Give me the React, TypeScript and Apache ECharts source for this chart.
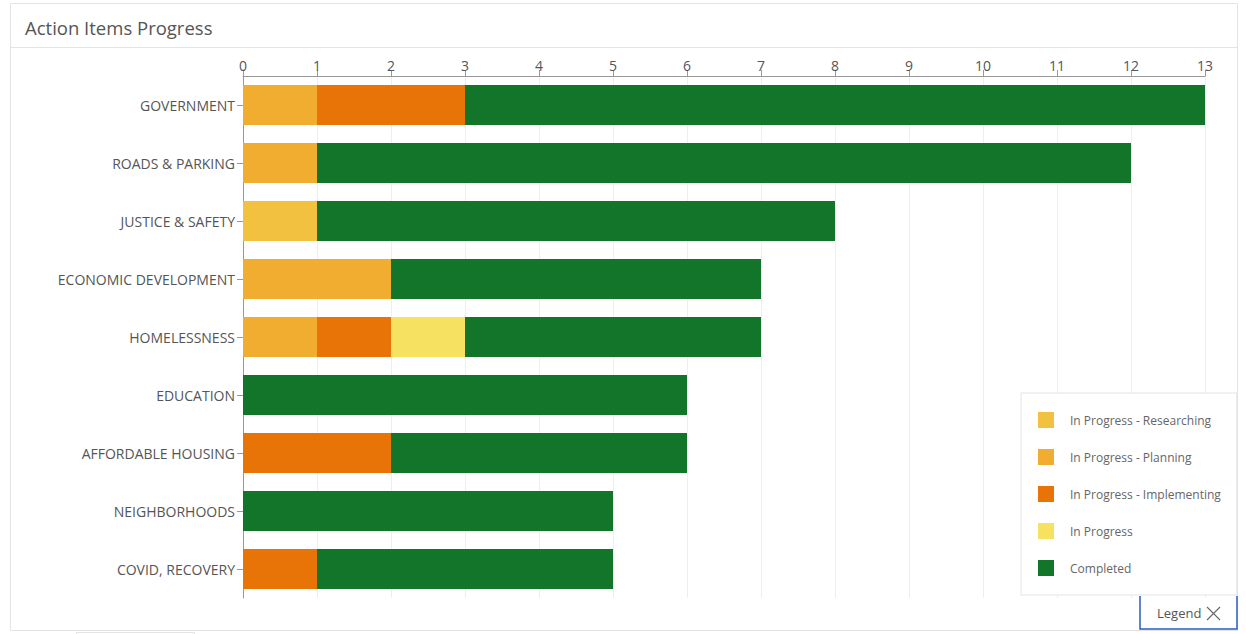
import React, { useEffect, useRef } from "react";
import * as echarts from "echarts";

const categories = [
  "GOVERNMENT",
  "ROADS & PARKING",
  "JUSTICE & SAFETY",
  "ECONOMIC DEVELOPMENT",
  "HOMELESSNESS",
  "EDUCATION",
  "AFFORDABLE HOUSING",
  "NEIGHBORHOODS",
  "COVID, RECOVERY",
];

const seriesNames = [
  "In Progress - Researching",
  "In Progress - Planning",
  "In Progress - Implementing",
  "In Progress",
  "Completed",
];
const seriesColors = ["#f2c13f", "#f0ad30", "#e87407", "#f7e160", "#13752a"];

const researching = [0, 0, 1, 0, 0, 0, 0, 0, 0];
const planning = [1, 1, 0, 2, 1, 0, 0, 0, 0];
const implementing = [2, 0, 0, 0, 1, 0, 2, 0, 1];
const inProgress = [0, 0, 0, 0, 1, 0, 0, 0, 0];
const completed = [10, 11, 7, 5, 4, 6, 4, 5, 4];

const seriesValues = [researching, planning, implementing, inProgress, completed];

const FONT = "'Open Sans', 'Noto Sans', sans-serif";

export default function App() {
  const ref = useRef<HTMLDivElement>(null);
  useEffect(() => {
    if (!ref.current) return;
    const chart = echarts.init(ref.current, undefined, { renderer: "svg" });
    const border = "#e3e3e3";
    chart.setOption({
      animation: false,
      textStyle: { fontFamily: FONT },
      grid: { left: 243, top: 76, width: 962, height: 522, containLabel: false },
      xAxis: {
        type: "value",
        position: "top",
        min: 0,
        max: 13,
        interval: 1,
        axisLine: { show: true, lineStyle: { color: "#999" } },
        axisTick: { show: true, length: 6, lineStyle: { color: "#999" } },
        axisLabel: { color: "#555", fontSize: 14, margin: 4, fontFamily: FONT },
        splitLine: { show: true, lineStyle: { color: "#eeeeee" } },
      },
      yAxis: {
        type: "category",
        inverse: true,
        data: categories,
        axisLine: { show: true, lineStyle: { color: "#999" } },
        axisTick: { show: true, alignWithLabel: true, length: 6, lineStyle: { color: "#999" } },
        axisLabel: { color: "#555", fontSize: 14, margin: 8, fontFamily: FONT },
        splitLine: { show: false },
      },
      legend: {
        show: true,
        orient: "vertical",
        left: 1021,
        top: 393,
        padding: [19, 16, 19, 17],
        itemWidth: 16,
        itemHeight: 16,
        itemGap: 21,
        icon: "rect",
        borderColor: border,
        borderWidth: 1,
        backgroundColor: "#fff",
        selectedMode: false,
        textStyle: { color: "#666", fontSize: 12, fontFamily: FONT, padding: [0, 0, 0, 11] },
        data: seriesNames,
      },
      series: seriesNames.map((name, i) => ({
        name,
        type: "bar",
        stack: "total",
        barWidth: 40,
        itemStyle: { color: seriesColors[i] },
        data: seriesValues[i],
        emphasis: { disabled: true },
      })),
      graphic: [
        {
          type: "rect",
          shape: { x: 10.5, y: 3.5, width: 1227, height: 627 },
          style: { fill: "none", stroke: border, lineWidth: 1 },
          silent: true,
          z: -10,
        },
        {
          type: "line",
          shape: { x1: 11, y1: 47.5, x2: 1237, y2: 47.5 },
          style: { stroke: border, lineWidth: 1 },
          silent: true,
        },
        {
          type: "text",
          x: 25,
          y: 27,
          style: {
            text: "Action Items Progress",
            fill: "#555",
            font: `18.5px ${FONT}`,
            textVerticalAlign: "middle",
          },
          silent: true,
        },
        {
          type: "polyline",
          shape: { points: [[1140, 596], [1140, 629], [1237, 629], [1237, 596]] },
          style: { stroke: "#2a5dc5", lineWidth: 1.5, fill: "none" },
          silent: true,
          z: 20,
        },
        {
          type: "text",
          x: 1157,
          y: 613,
          style: {
            text: "Legend",
            fill: "#555",
            font: `13px ${FONT}`,
            textVerticalAlign: "middle",
          },
          silent: true,
          z: 20,
        },
        {
          type: "line",
          shape: { x1: 1207, y1: 607, x2: 1220, y2: 620 },
          style: { stroke: "#666", lineWidth: 1.1 },
          silent: true,
          z: 20,
        },
        {
          type: "line",
          shape: { x1: 1220, y1: 607, x2: 1207, y2: 620 },
          style: { stroke: "#666", lineWidth: 1.1 },
          silent: true,
          z: 20,
        },
        {
          type: "polyline",
          shape: { points: [[76.5, 634], [76.5, 632.5], [194.5, 632.5], [194.5, 634]] },
          style: { stroke: border, lineWidth: 1, fill: "none" },
          silent: true,
        },
      ],
    });
    return () => chart.dispose();
  }, []);
  return (
    <div
      ref={ref}
      style={{ position: "fixed", left: 0, top: 0, width: 1246, height: 634, background: "#fff" }}
    />
  );
}
